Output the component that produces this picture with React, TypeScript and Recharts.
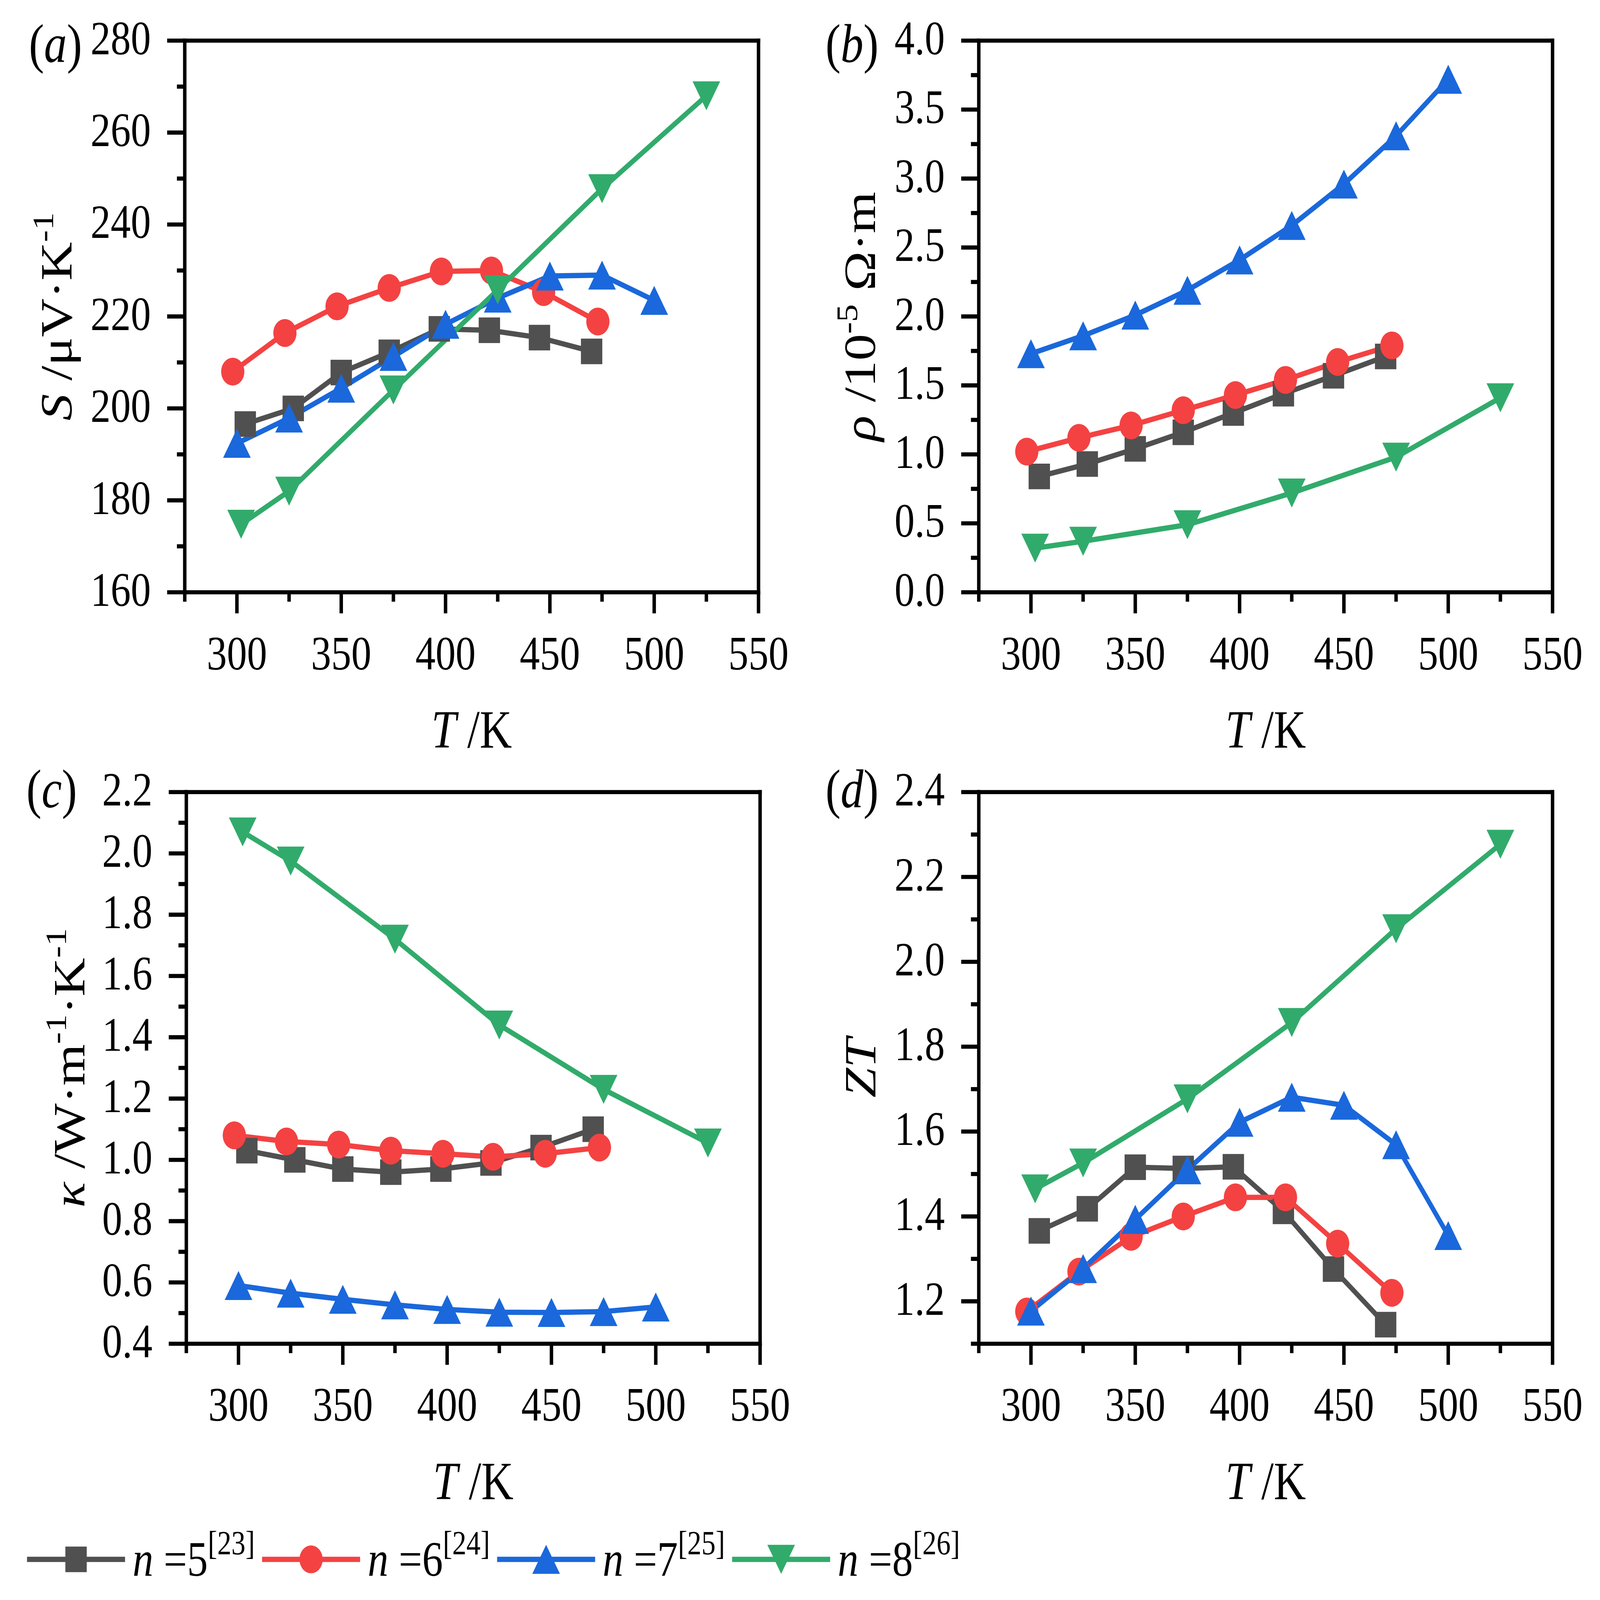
import React from 'react';
import { LineChart, Line, XAxis, YAxis, Label } from 'recharts';

// temperature of each sample series (K)
const tempN5 = [304, 327, 350, 373, 397, 421, 445, 470];
const tempN6 = [298, 323, 348, 373, 398, 422, 447, 473];
const tempN7 = [300, 325, 350, 375, 400, 425, 450, 475, 500];
const tempN8 = [302, 325, 375, 425, 475, 525];

// (a) Seebeck coefficient, uV/K
const seebeckN5 = [196.6, 200.0, 207.8, 212.2, 217.3, 217.0, 215.4, 212.4];
const seebeckN6 = [208.0, 216.4, 222.2, 226.2, 229.8, 230.0, 225.3, 218.9];
const seebeckN7 = [192.4, 197.9, 204.4, 211.3, 218.3, 224.0, 228.8, 229.0, 223.5];
const seebeckN8 = [174.8, 182.0, 204.0, 225.8, 247.8, 268.0];

// (b) resistivity, 1e-5 Ohm m
const rhoN5 = [0.84, 0.93, 1.04, 1.16, 1.3, 1.44, 1.57, 1.71];
const rhoN6 = [1.02, 1.12, 1.21, 1.32, 1.43, 1.54, 1.67, 1.79];
const rhoN7 = [1.73, 1.86, 2.01, 2.19, 2.41, 2.66, 2.96, 3.31, 3.72];
const rhoN8 = [0.32, 0.37, 0.49, 0.72, 0.98, 1.41];

// (c) thermal conductivity, W/(m K)
const kappaN5 = [1.03, 1.0, 0.97, 0.96, 0.97, 0.99, 1.04, 1.1];
const kappaN6 = [1.08, 1.06, 1.05, 1.03, 1.02, 1.01, 1.02, 1.04];
const kappaN7 = [0.59, 0.565, 0.545, 0.527, 0.512, 0.503, 0.502, 0.505, 0.52];
const kappaN8 = [2.07, 1.975, 1.72, 1.44, 1.23, 1.055];

// (d) figure of merit ZT
const ztN5 = [1.366, 1.418, 1.516, 1.513, 1.517, 1.412, 1.276, 1.145];
const ztN6 = [1.176, 1.27, 1.352, 1.4, 1.445, 1.445, 1.336, 1.22];
const ztN7 = [1.177, 1.277, 1.393, 1.51, 1.622, 1.681, 1.662, 1.569, 1.355];
const ztN8 = [1.465, 1.526, 1.677, 1.857, 2.078, 2.277];

// ticks
const tempTicks = [275, 300, 325, 350, 375, 400, 425, 450, 475, 500, 525, 550];
const tempMajor = [300, 350, 400, 450, 500, 550];
const seebeckTicks = [160, 170, 180, 190, 200, 210, 220, 230, 240, 250, 260, 270, 280];
const seebeckMajor = [160, 180, 200, 220, 240, 260, 280];
const rhoTicks = [0, 0.25, 0.5, 0.75, 1, 1.25, 1.5, 1.75, 2, 2.25, 2.5, 2.75, 3, 3.25, 3.5, 3.75, 4];
const rhoMajor = [0, 0.5, 1, 1.5, 2, 2.5, 3, 3.5, 4];
const kappaTicks = [0.4, 0.5, 0.6, 0.7, 0.8, 0.9, 1.0, 1.1, 1.2, 1.3, 1.4, 1.5, 1.6, 1.7, 1.8, 1.9, 2.0, 2.1, 2.2];
const kappaMajor = [0.4, 0.6, 0.8, 1.0, 1.2, 1.4, 1.6, 1.8, 2.0, 2.2];
const ztTicks = [1.1, 1.2, 1.3, 1.4, 1.5, 1.6, 1.7, 1.8, 1.9, 2.0, 2.1, 2.2, 2.3, 2.4];
const ztMajor = [1.2, 1.4, 1.6, 1.8, 2.0, 2.2, 2.4];

// series
const seriesNumbers = ['5', '6', '7', '8'];
const seriesRefs = ['[23]', '[24]', '[25]', '[26]'];
const seriesColors = ['#505050', '#F44242', '#1A68DB', '#31AB6B'];
const seriesShapes = ['square', 'circle', 'triangle', 'triangleDown'];
const seriesTemps = [tempN5, tempN6, tempN7, tempN8];

const FONT = "'Liberation Serif', 'Times New Roman', serif";
const PAGE_W = 5092;
const PAGE_H = 4252;
const PW = 1826;
const PH = 1466;
const L = 585;
const T = 100;
const R = 160;
const B = 460;
const AXIS_W = 11;
const MAJOR = 56;
const MINOR = 25;
const TICK_FS = 128;
const TITLE_FS = 142;

const axisLineStyle = { stroke: '#000', strokeWidth: AXIS_W, strokeLinecap: 'square' };

const isIn = (list: number[], v: number) => list.some((m) => Math.abs(m - v) < 1e-6);

function Marker({ cx, cy, shape, color }: any) {
  if (cx == null || cy == null) return null;
  if (shape === 'square') return <rect x={cx - 34} y={cy - 34} width={68} height={68} fill={color} />;
  if (shape === 'circle') return <circle cx={cx} cy={cy} r={37} fill={color} />;
  const w = 88;
  const h = 77;
  if (shape === 'triangle')
    return <path d={`M${cx},${cy - h / 2}L${cx + w / 2},${cy + h / 2}L${cx - w / 2},${cy + h / 2}Z`} fill={color} />;
  return <path d={`M${cx},${cy + h / 2}L${cx + w / 2},${cy - h / 2}L${cx - w / 2},${cy - h / 2}Z`} fill={color} />;
}

const sup = (text: string, key: string) => (
  <tspan key={key} dy={-58} fontSize={95}>
    {text}
  </tspan>
);

function Panel({ plotLeft, plotTop, tag, tagDx, tagDy, titleOffset, yTitle, yDomain, yTicks, yMajor, yFormat, values }: any) {
  const width = L + PW + R;
  const height = T + PH + B;

  const bottomTick = (p: any) => {
    const v = p.payload.value;
    const major = isIn(tempMajor, v);
    return (
      <g>
        <line x1={p.x} x2={p.x} y1={p.y} y2={p.y + (major ? MAJOR : MINOR)} stroke="#000" strokeWidth={AXIS_W} />
        {major && (
          <text x={p.x} y={p.y + 205} textAnchor="middle" fontSize={TICK_FS} fontFamily={FONT} fill="#000">
            {v}
          </text>
        )}
      </g>
    );
  };
  const topTick = (p: any) => {
    const major = isIn(tempMajor, p.payload.value);
    return <line x1={p.x} x2={p.x} y1={p.y} y2={p.y + (major ? MAJOR : MINOR)} stroke="#000" strokeWidth={AXIS_W} />;
  };
  const leftTick = (p: any) => {
    const v = p.payload.value;
    const major = isIn(yMajor, v);
    return (
      <g>
        <line x1={p.x} x2={p.x - (major ? MAJOR : MINOR)} y1={p.y} y2={p.y} stroke="#000" strokeWidth={AXIS_W} />
        {major && (
          <text x={p.x - 108} y={p.y + 36} textAnchor="end" fontSize={TICK_FS} fontFamily={FONT} fill="#000">
            {yFormat(v)}
          </text>
        )}
      </g>
    );
  };
  const rightTick = (p: any) => {
    const major = isIn(yMajor, p.payload.value);
    return <line x1={p.x} x2={p.x - (major ? MAJOR : MINOR)} y1={p.y} y2={p.y} stroke="#000" strokeWidth={AXIS_W} />;
  };

  const xTitle = () => (
    <text x={L + PW / 2} y={T + PH + 413} textAnchor="middle" fontSize={TITLE_FS} fontFamily={FONT} fill="#000">
      <tspan fontStyle="italic">T</tspan>
      <tspan> /K</tspan>
    </text>
  );
  const yTitleContent = () => {
    const bx = L - titleOffset;
    const cy = T + PH / 2;
    return (
      <g>
        <text
          x={bx}
          y={cy}
          transform={`rotate(-90, ${bx}, ${cy})`}
          textAnchor="middle"
          fontSize={TITLE_FS}
          fontFamily={FONT}
          fill="#000"
        >
          {yTitle}
        </text>
        <text x={L + tagDx} y={T + tagDy} fontSize={145} fontFamily={FONT} fill="#000">
          (<tspan fontStyle="italic">{tag}</tspan>)
        </text>
      </g>
    );
  };

  return (
    <div style={{ position: 'absolute', left: plotLeft - L, top: plotTop - T }}>
      <LineChart width={width} height={height} margin={{ top: 0, right: 0, bottom: 0, left: 0 }}>
        <XAxis
          xAxisId="bottom"
          type="number"
          dataKey="T"
          domain={[275, 550]}
          ticks={tempTicks}
          interval={0}
          height={B}
          tickSize={0}
          tickMargin={0}
          tickLine={false}
          axisLine={axisLineStyle}
          tick={bottomTick}
        >
          <Label content={xTitle} />
        </XAxis>
        <XAxis
          xAxisId="top"
          orientation="top"
          type="number"
          dataKey="T"
          domain={[275, 550]}
          ticks={tempTicks}
          interval={0}
          height={T}
          tickSize={0}
          tickMargin={0}
          tickLine={false}
          axisLine={axisLineStyle}
          tick={topTick}
        />
        <YAxis
          yAxisId="left"
          type="number"
          domain={yDomain}
          ticks={yTicks}
          interval={0}
          width={L}
          tickSize={0}
          tickMargin={0}
          tickLine={false}
          axisLine={axisLineStyle}
          tick={leftTick}
        >
          <Label content={yTitleContent} />
        </YAxis>
        <YAxis
          yAxisId="right"
          orientation="right"
          type="number"
          domain={yDomain}
          ticks={yTicks}
          interval={0}
          width={R}
          tickSize={0}
          tickMargin={0}
          tickLine={false}
          axisLine={axisLineStyle}
          tick={rightTick}
        />
        {values.map((vals: number[], i: number) => (
          <Line
            key={seriesNumbers[i]}
            xAxisId="bottom"
            yAxisId="left"
            data={seriesTemps[i].map((t, j) => ({ T: t, v: vals[j] }))}
            dataKey="v"
            type="linear"
            stroke={seriesColors[i]}
            strokeWidth={14}
            isAnimationActive={false}
            activeDot={false}
            dot={(p: any) => (
              <Marker key={`${i}-${p.index}`} cx={p.cx} cy={p.cy} shape={seriesShapes[i]} color={seriesColors[i]} />
            )}
          />
        ))}
      </LineChart>
    </div>
  );
}

function ChartLegend() {
  const x0 = 86;
  const step = 748;
  const cy = 104;
  return (
    <svg width={3200} height={212} style={{ position: 'absolute', left: 0, top: 4040 }}>
      {seriesNumbers.map((num, i) => {
        const sx = x0 + i * step;
        return (
          <g key={num}>
            <line x1={sx} x2={sx + 312} y1={cy} y2={cy} stroke={seriesColors[i]} strokeWidth={14} />
            <Marker cx={sx + 156} cy={cy} shape={seriesShapes[i]} color={seriesColors[i]} />
            <text x={sx + 336} y={cy + 44} fontSize={132} fontFamily={FONT} fill="#000">
              <tspan fontStyle="italic">n</tspan>
              <tspan> ={num}</tspan>
              <tspan dy={-57} fontSize={90}>
                {seriesRefs[i]}
              </tspan>
            </text>
          </g>
        );
      })}
    </svg>
  );
}

const fmt1 = (v: number) => v.toFixed(1);
const fmt0 = (v: number) => String(v);

export default function App() {
  // the figure is laid out on a 5092x4252 sheet and fitted to the window
  const vw = typeof window !== 'undefined' ? window.innerWidth : PAGE_W;
  const vh = typeof window !== 'undefined' ? window.innerHeight : PAGE_H;
  const sx = Math.min(1, vw / PAGE_W);
  const sy = Math.min(1, vh / PAGE_H);
  return (
    <div
      style={{
        position: 'absolute',
        left: 0,
        top: 0,
        width: PAGE_W * sx,
        height: PAGE_H * sy,
        background: '#fff',
        overflow: 'hidden',
      }}
    >
      <div
        style={{
          position: 'absolute',
          left: 0,
          top: 0,
          width: PAGE_W,
          height: PAGE_H,
          transform: `scale(${sx}, ${sy})`,
          transformOrigin: '0 0',
        }}
      >
        <Panel
          plotLeft={588}
          plotTop={108}
          tag="a"
          tagDx={-496}
          tagDy={57}
          titleOffset={361}
          yTitle={[
            <tspan key="s" fontStyle="italic">S</tspan>,
            <tspan key="u"> /μV·K</tspan>,
            sup('-1', 'a1'),
          ]}
          yDomain={[160, 280]}
          yTicks={seebeckTicks}
          yMajor={seebeckMajor}
          yFormat={fmt0}
          values={[seebeckN5, seebeckN6, seebeckN7, seebeckN8]}
        />
        <Panel
          plotLeft={3115}
          plotTop={108}
          tag="b"
          tagDx={-488}
          tagDy={57}
          titleOffset={330}
          yTitle={[
            <tspan key="r" fontStyle="italic">ρ</tspan>,
            <tspan key="u"> /10</tspan>,
            sup('-5', 'b1'),
            <tspan key="o" dy={58}> Ω·m</tspan>,
          ]}
          yDomain={[0, 4]}
          yTicks={rhoTicks}
          yMajor={rhoMajor}
          yFormat={fmt1}
          values={[rhoN5, rhoN6, rhoN7, rhoN8]}
        />
        <Panel
          plotLeft={593}
          plotTop={2105}
          tag="c"
          tagDx={-509}
          tagDy={41}
          titleOffset={325}
          yTitle={[
            <tspan key="k" fontStyle="italic">κ</tspan>,
            <tspan key="u"> /W·m</tspan>,
            sup('-1', 'c1'),
            <tspan key="kk" dy={58}>·K</tspan>,
            sup('-1', 'c2'),
          ]}
          yDomain={[0.4, 2.2]}
          yTicks={kappaTicks}
          yMajor={kappaMajor}
          yFormat={fmt1}
          values={[kappaN5, kappaN6, kappaN7, kappaN8]}
        />
        <Panel
          plotLeft={3115}
          plotTop={2105}
          tag="d"
          tagDx={-488}
          tagDy={41}
          titleOffset={329}
          yTitle={[<tspan key="z" fontStyle="italic">ZT</tspan>]}
          yDomain={[1.1, 2.4]}
          yTicks={ztTicks}
          yMajor={ztMajor}
          yFormat={fmt1}
          values={[ztN5, ztN6, ztN7, ztN8]}
        />
        <ChartLegend />
      </div>
    </div>
  );
}
